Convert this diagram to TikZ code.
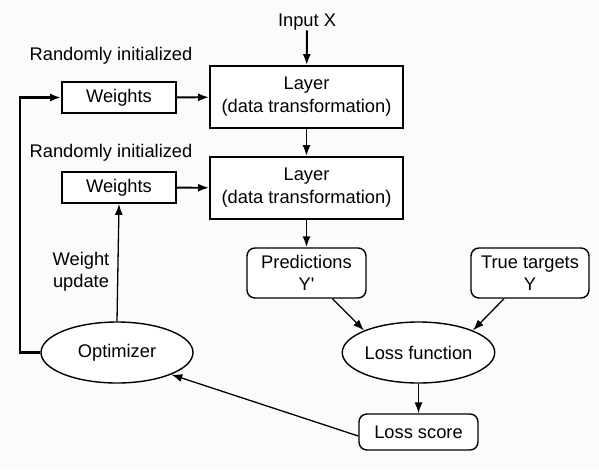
\documentclass[tikz,border=0pt]{standalone}
\usepackage{fontspec}
\setmainfont{Liberation Sans}
\usetikzlibrary{arrows.meta,shapes.geometric}
\begin{document}
\begin{tikzpicture}[x=1pt,y=-1pt,
  every node/.style={font=\fontsize{18.3}{23}\selectfont, inner sep=0pt},
  sqbox/.style={draw, line width=1.8pt, fill=white, align=center},
  rbox/.style={draw, line width=1.4pt, rounded corners=8pt, fill=white, align=center},
  ell/.style={draw, ellipse, line width=1.4pt, fill=white, minimum width=152pt, minimum height=61pt},
  thk/.style={line width=1.9pt, -{Latex[length=11pt,width=8pt]}},
  thn/.style={line width=1.3pt, -{Latex[length=11pt,width=8pt]}},
  lbl/.style={align=center}]
\useasboundingbox (0,0) rectangle (599,469);
\fill[white!98.5!black] (0,0) rectangle (599,469);
\node (in) at (307,22) {Input X};
\node[sqbox, minimum width=193pt, minimum height=62pt] (L1) at (306.5,97) {Layer\\(data transformation)};
\node[sqbox, minimum width=193pt, minimum height=62pt] (L2) at (306.5,188) {Layer\\(data transformation)};
\node[sqbox, minimum width=114pt, minimum height=31pt] (W1) at (119,97.5) {Weights};
\node[sqbox, minimum width=114pt, minimum height=31pt] (W2) at (119,187.5) {Weights};
\node (r1) at (111,56) {Randomly initialized};
\node (r2) at (111,153) {Randomly initialized};
\node[rbox, minimum width=119pt, minimum height=50pt, font=\fontsize{18.3}{22}\selectfont] (P) at (306.5,273) {Predictions\\Y\textquotesingle};
\node[rbox, minimum width=118pt, minimum height=50pt, font=\fontsize{18.3}{22}\selectfont] (T) at (530,273) {True targets\\Y};
\node[ell] (LF) at (418.5,352.5) {Loss function};
\node[ell] (O) at (117,352.5) {Optimizer};
\node[rbox, minimum width=119pt, minimum height=36pt] (LS) at (418.5,432) {Loss score};
\node[lbl, font=\fontsize{18.3}{22}\selectfont] (wu) at (81,272) {Weight\\update};
\coordinate (c1) at (20,352.5);
\coordinate (c2) at (20,97.5);
\draw[thk] (in) -- (L1);
\draw[thk] (L1) -- (L2);
\draw[thk] (W1) -- (L1);
\draw[thk] (W2) -- (L2);
\draw[thk] (L2.south) -- (P.north);
\draw[thk, line width=2.6pt] (O.west) -- (c1) -- (c2) -- (W1.west);
\draw[thn] (O.north) -- (W2.south);
\draw[thn] ([xshift=26pt]P.south) -- (LF.north west);
\draw[thn] ([xshift=-26pt]T.south) -- (LF.north east);
\draw[thn] (LF) -- (LS);
\draw[thn] ([yshift=-4pt]LS.west) -- (O.south east);
\end{tikzpicture}
\end{document}
